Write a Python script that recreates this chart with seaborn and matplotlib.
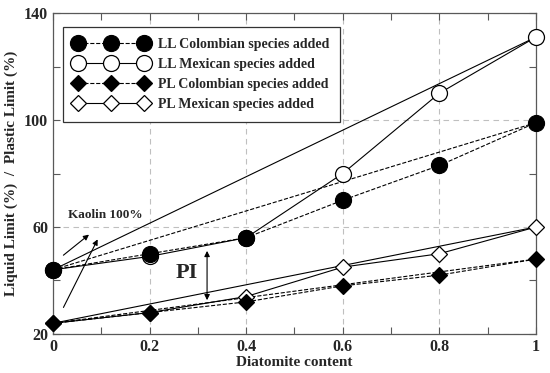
import numpy as np
import pandas as pd
import matplotlib
matplotlib.use("Agg")
import matplotlib.pyplot as plt
import seaborn as sns
from matplotlib.ticker import FixedLocator

# ---------------------------------------------------------
# data
# ---------------------------------------------------------
diatomite = [0, 0.2, 0.4, 0.6, 0.8, 1.0]
ll_colombian = [44, 50, 56, 70, 83, 99]
ll_mexican = [44, 49, 56, 80, 110, 131]
pl_colombian = [24, 28, 32, 38, 42, 48]
pl_mexican = [24, 28, 34, 45, 50, 60]

labels = ["LL Colombian species added", "LL Mexican species added",
          "PL Colombian species added", "PL Mexican species added"]
xtick_labels = ["0", "0.2", "0.4", "0.6", "0.8", "1"]

sns.set_style("ticks")
plt.rcParams["font.family"] = ["Liberation Serif", "DejaVu Serif"]
plt.rcParams["font.weight"] = "bold"

fig = plt.figure(figsize=(5.5, 3.73), dpi=100)
ax = fig.add_axes([0.0964, 0.1046, 0.878, 0.8605])

df = pd.DataFrame({"x": diatomite, "llc": ll_colombian, "llm": ll_mexican,
                   "plc": pl_colombian, "plm": pl_mexican})

# straight mixing lines between end members (first/last values)
for col, ls in [("llc", "--"), ("llm", "-"), ("plc", "--"), ("plm", "-")]:
    ends = df.iloc[[0, -1]]
    ax.plot(ends["x"], ends[col], color="black", linestyle=ls, linewidth=0.8, zorder=2)

styles = {
    "llc": dict(marker="o", markersize=11.5, markerfacecolor="black", linestyle="--", zorder=6),
    "llm": dict(marker="o", markersize=11.5, markerfacecolor="white", linestyle="-", zorder=5),
    "plc": dict(marker="D", markersize=8.5, markerfacecolor="black", linestyle="--", zorder=6),
    "plm": dict(marker="D", markersize=8.5, markerfacecolor="white", linestyle="-", zorder=5),
}
for col, lab in zip(["llc", "llm", "plc", "plm"], labels):
    sns.lineplot(data=df, x="x", y=col, ax=ax, color="black", linewidth=0.8,
                 markeredgecolor="black", markeredgewidth=0.9, label=lab,
                 clip_on=False, **styles[col])

ax.set_xlim(0, 1)
ax.set_ylim(20, 140)
ax.set_xticks(diatomite)
ax.set_xticklabels(xtick_labels)
ax.xaxis.set_minor_locator(FixedLocator([0.1, 0.3, 0.5, 0.7, 0.9]))
ax.set_yticks([20, 60, 100, 140])
ax.yaxis.set_minor_locator(FixedLocator([40, 80, 120]))
ax.tick_params(which="both", direction="in", top=True, right=True,
               length=5, width=0.8, color="0.35", labelsize=11.5)
for sp in ax.spines.values():
    sp.set_color("0.35")
    sp.set_linewidth(0.9)
ax.grid(True, which="major", linestyle=(0, (5, 4)), color="0.75", linewidth=0.8)

ax.set_xlabel("Diatomite content", fontsize=11, fontweight="bold", labelpad=1)
ax.set_ylabel("Liquid Limit (%)  /  Plastic Limit (%)", fontsize=11,
              fontweight="bold", labelpad=4)

# annotations
ax.text(0.03, 64.5, "Kaolin 100%", fontsize=9.5, fontweight="bold", va="center")
ax.annotate("", xy=(0.079, 57.8), xytext=(0.017, 48.8),
            arrowprops=dict(arrowstyle="-|>", color="black", lw=0.8, mutation_scale=8))
ax.annotate("", xy=(0.095, 56.3), xytext=(0.019, 29),
            arrowprops=dict(arrowstyle="-|>", color="black", lw=0.8, mutation_scale=8))
ax.annotate("", xy=(0.319, 52.1), xytext=(0.319, 31.6),
            arrowprops=dict(arrowstyle="<|-|>", color="black", lw=0.8, mutation_scale=8))
ax.text(0.277, 42.8, "PI", fontsize=16, fontweight="bold", va="center", ha="center")

# legend in the original order
handles, labs = ax.get_legend_handles_labels()
leg = ax.legend(handles, labs, loc="upper left", bbox_to_anchor=(0.021, 0.957),
                numpoints=3, handlelength=5.3, fontsize=10, frameon=True,
                fancybox=False, framealpha=1, edgecolor="0.2",
                borderpad=0.8, labelspacing=0.5, handletextpad=0.7,
                borderaxespad=0)
leg.get_frame().set_linewidth(0.9)
leg.set_zorder(10)

fig.savefig("out.png", dpi=100)
